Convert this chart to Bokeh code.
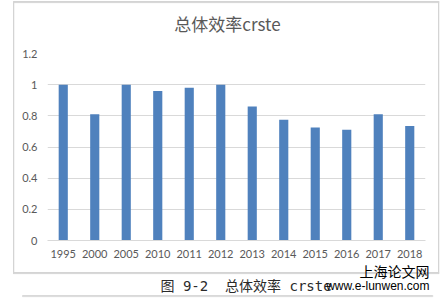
from bokeh.plotting import figure
from bokeh.models import Label, FactorRange, ColumnDataSource, Range1d, FixedTicker
from bokeh.embed import file_html
from bokeh.resources import INLINE

years = ["1995", "2000", "2005", "2010", "2011", "2012", "2013", "2014", "2015", "2016", "2017", "2018"]
crste = [1.0, 0.81, 1.0, 0.96, 0.98, 1.0, 0.86, 0.775, 0.725, 0.71, 0.81, 0.735]
y_ticks = [0, 0.2, 0.4, 0.6, 0.8, 1.0, 1.2]
y_tick_labels = ["0", "0.2", "0.4", "0.6", "0.8", "1", "1.2"]
title_text = "总体效率crste"
caption_text = "图\u00a09-2\u00a0\u00a0总体效率\u00a0crste"
watermark_cn = "上海论文网"
watermark_url = "www.e-lunwen.com"

GRAY_TXT = "#595959"
GRID = "#d9d9d9"
BOX = "#d4d4d4"
BAR = "#4f81bd"

W, H = 440, 298

src = ColumnDataSource(dict(x=years, y=crste))

p = figure(width=W, height=H, output_backend="svg", toolbar_location=None,
           x_range=FactorRange(*years, range_padding=0), y_range=Range1d(0, 1.2),
           min_border_left=47, min_border_right=15, min_border_top=53, min_border_bottom=58)
p.vbar(x="x", top="y", width=0.29, source=src, color=BAR, line_color=None)

p.outline_line_color = None
p.background_fill_color = "white"
p.border_fill_color = "white"

p.xgrid.grid_line_color = None
p.ygrid.grid_line_color = GRID
p.ygrid.grid_line_width = 1.2

p.yaxis.ticker = FixedTicker(ticks=y_ticks)
p.yaxis.major_label_overrides = {t: l for t, l in zip(y_ticks, y_tick_labels)}
p.yaxis.axis_line_color = None
p.yaxis.major_tick_line_color = None
p.yaxis.minor_tick_line_color = None
p.yaxis.major_label_standoff = 4
p.yaxis.major_label_text_font = "Lato"
p.yaxis.major_label_text_font_size = "11px"
p.yaxis.major_label_text_color = GRAY_TXT

p.xaxis.axis_line_color = GRID
p.xaxis.axis_line_width = 1.2
p.xaxis.major_tick_line_color = None
p.xaxis.minor_tick_line_color = None
p.xaxis.major_label_standoff = 3
p.xaxis.major_label_text_font = "Lato"
p.xaxis.major_label_text_font_size = "11px"
p.xaxis.major_label_text_color = GRAY_TXT


def text_label(place, x, y, text, font, size, color, align="left", baseline="middle", **kw):
    p.add_layout(Label(x=x, y=y, x_units="canvas", y_units="canvas", text=text,
                       text_align=align, text_baseline=baseline,
                       text_font=font, text_font_size=size, text_color=color, **kw), place)


def rule(place, x, y, w, h, color):
    # thin rectangle drawn as the border of an empty label, in canvas pixels
    p.add_layout(Label(x=x, y=y, x_units="canvas", y_units="canvas", text=" ",
                       text_font_size="1px", text_align="left", text_baseline="top",
                       padding=dict(left=0, right=w, top=0, bottom=h),
                       border_line_color=color, border_line_width=1,
                       background_fill_color=None), place)


# outer chart box
rule("above", 13, 1, 425, 0, BOX)
rule("below", 13, 272, 425, 0, BOX)
rule("left", 13, 1, 0, 271, BOX)
rule("right", 438, 1, 0, 271, BOX)

text_label("above", 227, 23, title_text, "Noto Sans CJK SC", "17px", GRAY_TXT, align="center")
text_label("above", 160, 285, caption_text, "'DejaVu Sans Mono', 'Noto Sans CJK SC'", "14px", "#2a2a2a")
text_label("below", 429, 271, watermark_cn, "'Liberation Sans', 'Noto Sans CJK SC'", "14px", "black",
           align="right")
text_label("below", 429, 285, watermark_url, "'Liberation Sans'", "12px", "black",
           align="right")

# lower rule line
rule("below", 22, 295, 410, 0, GRID)

open("out.html", "w").write(file_html(p, INLINE))
